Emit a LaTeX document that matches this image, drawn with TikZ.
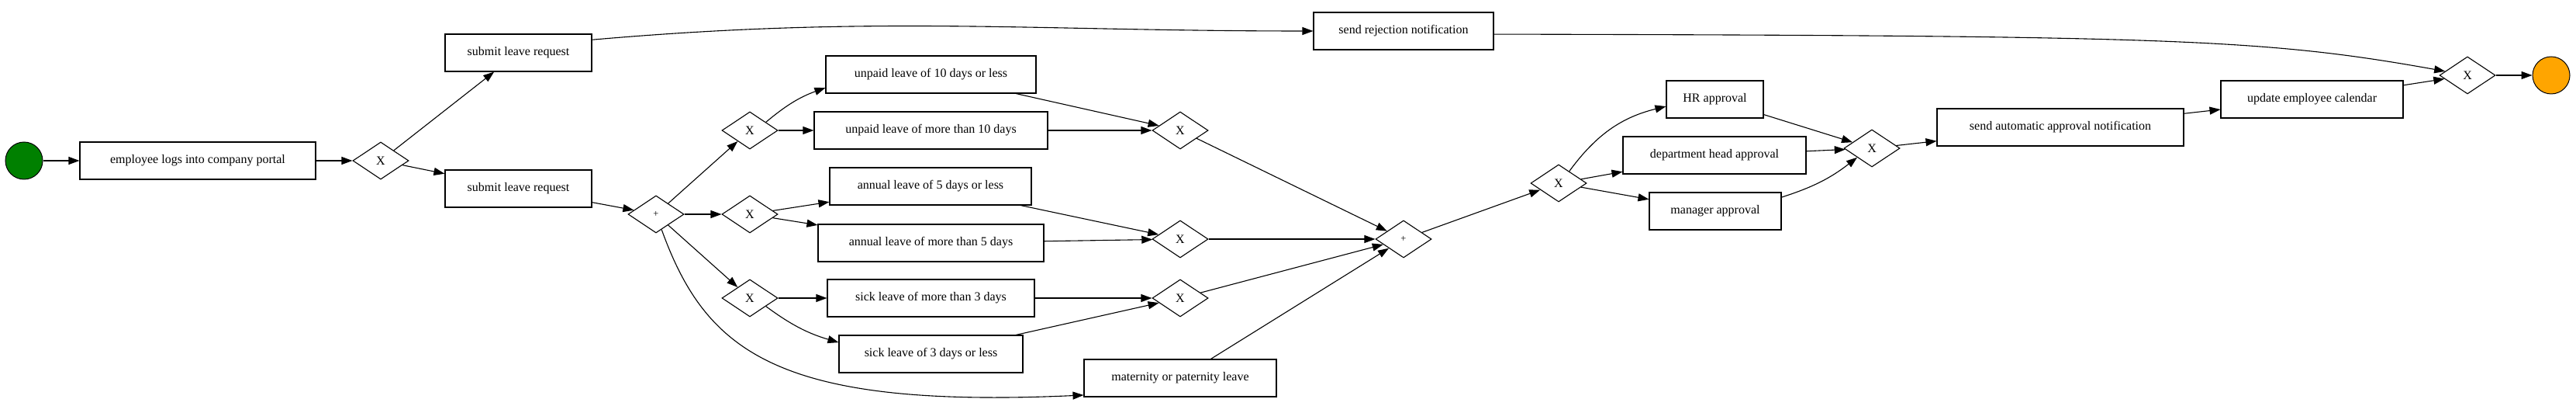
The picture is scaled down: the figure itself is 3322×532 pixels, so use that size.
\documentclass[tikz,border=0pt]{standalone}
\usepackage{fontspec}
\setmainfont{Liberation Serif}
\usetikzlibrary{shapes.geometric,arrows.meta}

\definecolor{startcolor}{RGB}{0,128,0}
\definecolor{endcolor}{RGB}{255,165,0}

\tikzset{
  task/.style={draw, rectangle, line width=1.1pt, minimum height=48pt, inner sep=0pt, font=\fontsize{16}{19}\selectfont},
  gateway/.style={draw, diamond, line width=1.1pt, minimum width=72pt, minimum height=48pt, inner sep=0pt, font=\fontsize{16}{19}\selectfont},
  andgate/.style={gateway, font=\fontsize{12.5}{14}\selectfont},
  event/.style={draw, circle, line width=1pt, minimum size=48pt, inner sep=0pt},
  flow/.style={line width=1.1pt, -{Triangle[length=14pt,width=10pt]}},
}

\begin{document}
\begin{tikzpicture}[x=1pt,y=1pt]
      \useasboundingbox (0,0) rectangle (3322,532);

      % Start, login and first choice
      \node[event, fill=startcolor] (start) at (31,325) {};
      \node[task, minimum width=304pt] (login) at (255,325) {employee logs into company portal};
      \node[gateway] (xsplit) at (491,325) {X};
      \node[task, minimum width=189pt] (submitA) at (668.5,464) {submit leave request};
      \node[task, minimum width=189pt] (submitB) at (668.5,289) {submit leave request};

      % Leave types
      \node[andgate] (andsplit) at (846,256) {+};
      \node[gateway] (xunpaid) at (967,364) {X};
      \node[gateway] (xannual) at (967,256) {X};
      \node[gateway] (xsick) at (967,148) {X};
      \node[task, minimum width=271pt] (unpaidA) at (1200.5,436) {unpaid leave of 10 days or less};
      \node[task, minimum width=301pt] (unpaidB) at (1200.5,364) {unpaid leave of more than 10 days};
      \node[task, minimum width=260pt] (annualA) at (1200,292) {annual leave of 5 days or less};
      \node[task, minimum width=291pt] (annualB) at (1200.5,219) {annual leave of more than 5 days};
      \node[task, minimum width=267pt] (sickA) at (1200.5,148) {sick leave of more than 3 days};
      \node[task, minimum width=237pt] (sickB) at (1200.5,76) {sick leave of 3 days or less};
      \node[task, minimum width=248pt] (parental) at (1522,45) {maternity or paternity leave};
      \node[gateway] (xunpaidjoin) at (1522,364) {X};
      \node[gateway] (xannualjoin) at (1522,224) {X};
      \node[gateway] (xsickjoin) at (1522,148) {X};
      \node[andgate] (andjoin) at (1810,224) {+};

      % Rejection branch
      \node[task, minimum width=232pt] (reject) at (1810,492) {send rejection notification};

      % Approvals and end
      \node[gateway] (xapprove) at (2010,296) {X};
      \node[task, minimum width=125pt] (hr) at (2211.5,404) {HR approval};
      \node[task, minimum width=236pt] (head) at (2211,332) {department head approval};
      \node[task, minimum width=170pt] (manager) at (2212,260) {manager approval};
      \node[gateway] (xapprovejoin) at (2414,341) {X};
      \node[task, minimum width=318pt] (notify) at (2657,368) {send automatic approval notification};
      \node[task, minimum width=235pt] (calendar) at (2981.5,404) {update employee calendar};
      \node[gateway] (xend) at (3182,435) {X};
      \node[event, fill=endcolor] (finish) at (3290,435) {};

      % Flows
      \draw[flow] (start) -- (login);
      \draw[flow] (login) -- (xsplit);
      \draw[flow] (xsplit) -- (submitA);
      \draw[flow] (xsplit) -- (submitB);
      \draw[flow] (submitA.10) to[out=5,in=180] (reject);
      \draw[flow] (submitB) -- (andsplit);
      \draw[flow] (andsplit) -- (xunpaid);
      \draw[flow] (andsplit) -- (xannual);
      \draw[flow] (andsplit) -- (xsick);
      \draw[flow] (andsplit) .. controls (910,80) and (1000,5) .. (parental.190);
      \draw[flow] (xunpaid) to[bend left=10] (unpaidA);
      \draw[flow] (xunpaid) -- (unpaidB);
      \draw[flow] (xannual) -- (annualA);
      \draw[flow] (xannual) -- (annualB);
      \draw[flow] (xsick) -- (sickA);
      \draw[flow] (xsick) to[bend right=10] (sickB);
      \draw[flow] (unpaidA) -- (xunpaidjoin);
      \draw[flow] (unpaidB) -- (xunpaidjoin);
      \draw[flow] (annualA) -- (xannualjoin);
      \draw[flow] (annualB) -- (xannualjoin);
      \draw[flow] (sickA) -- (xsickjoin);
      \draw[flow] (sickB) -- (xsickjoin);
      \draw[flow] (xunpaidjoin) -- (andjoin);
      \draw[flow] (xannualjoin) -- (andjoin);
      \draw[flow] (xsickjoin) -- (andjoin);
      \draw[flow] (parental) -- (andjoin);
      \draw[flow] (andjoin) -- (xapprove);
      \draw[flow] (xapprove) to[bend left=20] (hr);
      \draw[flow] (xapprove) -- (head);
      \draw[flow] (xapprove) -- (manager);
      \draw[flow] (hr) -- (xapprovejoin);
      \draw[flow] (head) -- (xapprovejoin);
      \draw[flow] (manager) to[bend right=10] (xapprovejoin);
      \draw[flow] (xapprovejoin) -- (notify);
      \draw[flow] (notify) -- (calendar);
      \draw[flow] (calendar) -- (xend);
      \draw[flow] (reject.-2) .. controls (2800,486) and (2920,482) .. (xend);
      \draw[flow] (xend) -- (finish);
\end{tikzpicture}
\end{document}
